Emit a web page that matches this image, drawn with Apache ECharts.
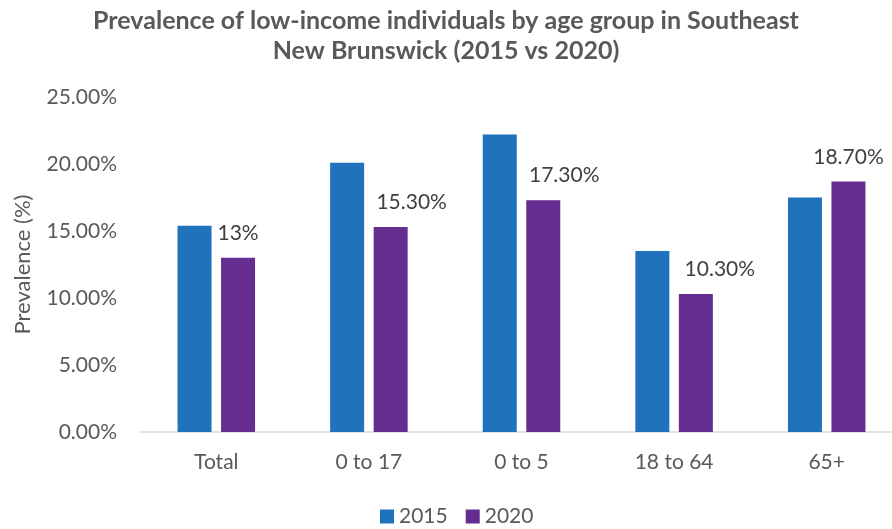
<!DOCTYPE html>
<html>
<head>
<meta charset="utf-8">
<script src="https://cdn.jsdelivr.net/npm/echarts@6/dist/echarts.min.js"></script>
<style>
  html, body { margin: 0; padding: 0; background: #fff; }
  #chart { width: 892px; height: 529px; }
</style>
</head>
<body>
<div id="chart"></div>
<script>
// Low-income prevalence (%) by age group, Southeast New Brunswick
const categories = ['Total', '0 to 17', '0 to 5', '18 to 64', '65+'];
const values2015 = [15.4, 20.1, 22.2, 13.5, 17.5];
const values2020 = [13, 15.3, 17.3, 10.3, 18.7];
const labels2020 = ['13%', '15.30%', '17.30%', '10.30%', '18.70%'];
const yTicks = [0, 5, 10, 15, 20, 25];

const FONT = 'Lato, "Open Sans", sans-serif';
const GREY = '#595959';

// horizontal nudges for the 2020 value labels
const labelNudge = [0, 21, 21, 24, 0];

const chart = echarts.init(document.getElementById('chart'));
chart.setOption({
  animation: false,
  backgroundColor: '#fff',
  title: {
    text: 'Prevalence of low-income individuals by age group in Southeast\nNew Brunswick (2015 vs 2020)',
    left: 'center',
    top: 1,
    textStyle: {
      fontFamily: FONT, fontSize: 25, fontWeight: 'bold', color: GREY, lineHeight: 30
    }
  },
  legend: {
    bottom: 2,
    left: 380,
    padding: 0,
    itemWidth: 14,
    itemHeight: 14,
    itemGap: 18,
    icon: 'rect',
    textStyle: { fontFamily: FONT, fontSize: 21, color: GREY },
    data: ['2015', '2020']
  },
  grid: {
    left: 140, right: -11, top: 97, bottom: 97,
    containLabel: false, outerBoundsMode: 'none'
  },
  xAxis: {
    type: 'category',
    data: categories,
    axisLine: { lineStyle: { color: '#d9d9d9', width: 1.5 } },
    axisTick: { show: false },
    axisLabel: { fontFamily: FONT, fontSize: 21, color: GREY, margin: 20 }
  },
  yAxis: {
    type: 'value',
    min: yTicks[0],
    max: yTicks[yTicks.length - 1],
    interval: 5,
    name: 'Prevalence (%)',
    nameLocation: 'middle',
    nameGap: 106,
    nameTextStyle: { fontFamily: FONT, fontSize: 22, color: GREY },
    axisLine: { show: false },
    axisTick: { show: false },
    splitLine: { show: false },
    axisLabel: {
      fontFamily: FONT, fontSize: 21, color: GREY, margin: 23,
      formatter: v => v.toFixed(2) + '%'
    }
  },
  series: [
    {
      name: '2015',
      type: 'bar',
      data: values2015,
      barWidth: 34,
      barGap: '28%',
      itemStyle: { color: '#1f72bb' }
    },
    {
      name: '2020',
      type: 'bar',
      data: values2020.map((v, i) => ({
        value: v,
        label: { offset: [labelNudge[i], 0] }
      })),
      barWidth: 34,
      itemStyle: { color: '#652d90' },
      label: {
        show: true,
        position: 'top',
        distance: 14,
        fontFamily: FONT,
        fontSize: 21,
        color: '#404040',
        formatter: p => labels2020[p.dataIndex]
      }
    }
  ]
});
</script>
</body>
</html>
